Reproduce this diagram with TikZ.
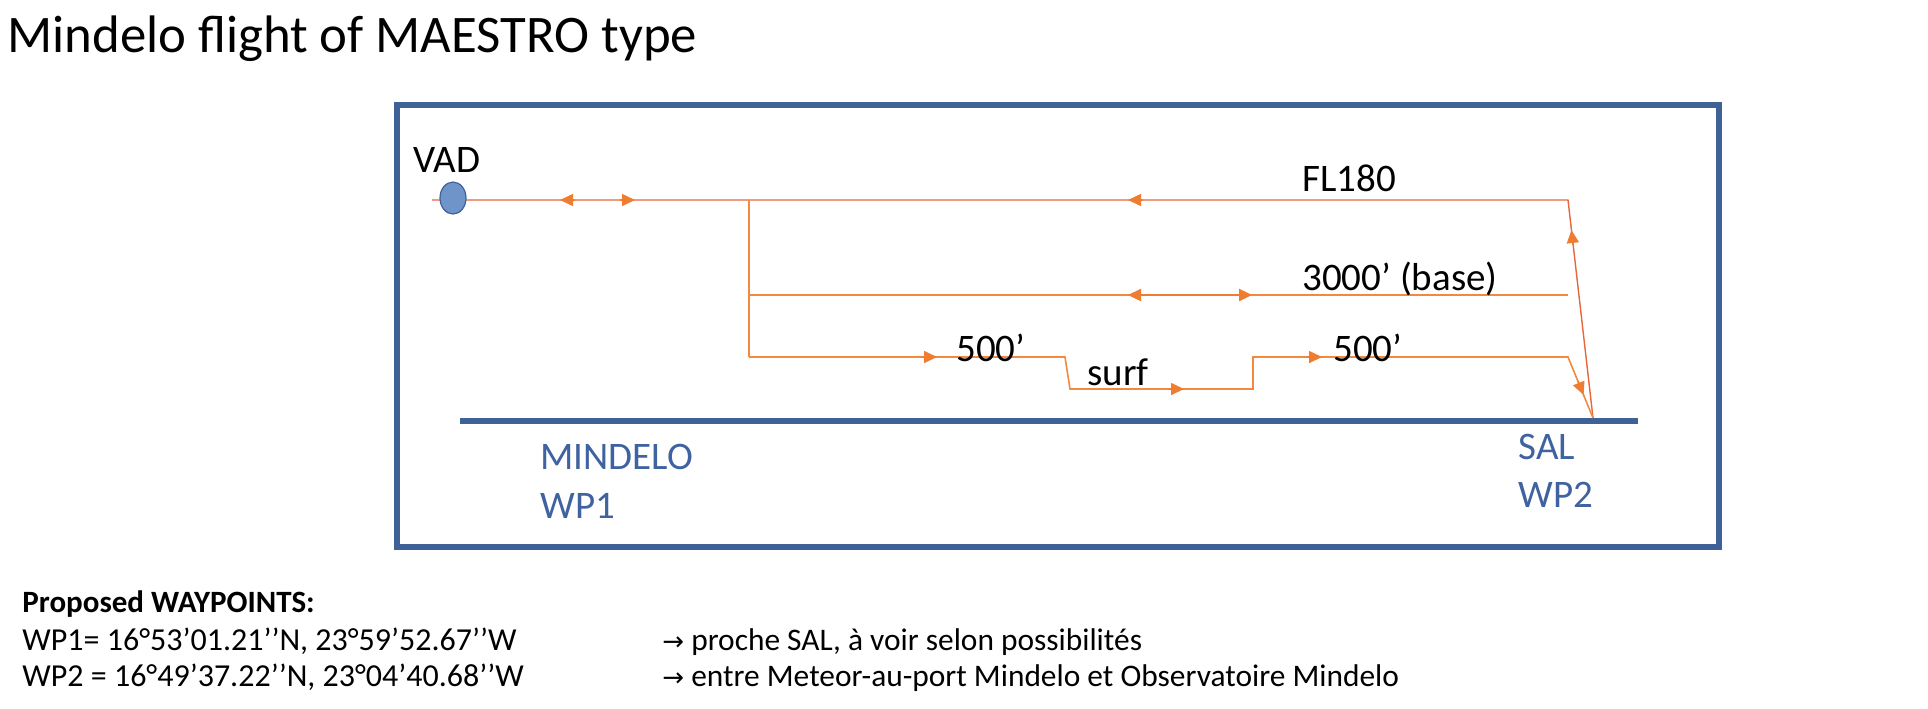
\documentclass[tikz,border=0pt]{standalone}
\usepackage{fontspec}
\setmainfont{Carlito}
\newfontfamily\arrowfont{DejaVu Sans}
\usetikzlibrary{arrows.meta,shapes.geometric}
\definecolor{boxblue}{HTML}{3E6198}
\definecolor{txtblue}{HTML}{3F62A0}
\definecolor{fillblue}{HTML}{6E94CA}
\definecolor{lineor}{HTML}{F2893F}
\definecolor{topor}{HTML}{E8663C}
\definecolor{arrowor}{HTML}{EE7D31}
\newcommand{\rarr}{{\arrowfont\fontsize{13}{16}\selectfont →}}
\begin{document}
\begin{tikzpicture}[x=0.5pt,y=-0.5pt,
  lbl/.style={inner sep=0pt, anchor=base west, font=\fontsize{19.5}{23}\selectfont},
  blbl/.style={lbl, text=txtblue},
  foot/.style={inner sep=0pt, anchor=base west, font=\fontsize{16}{19}\selectfont},
  route/.style={draw=lineor, line width=0.8pt},
  toproute/.style={draw=topor, line width=0.7pt},
  tip/.style={-{Triangle[length=6.5pt,width=6pt]}, draw=arrowor, fill=arrowor, line width=0.8pt},
  dtip/.style={{Triangle[length=6.5pt,width=6pt]}-{Triangle[length=6.5pt,width=6pt]}, draw=arrowor, fill=arrowor, line width=1.2pt},
]
\useasboundingbox (0,0) rectangle (1928,708);

% title
\node[inner sep=0pt, anchor=base west, font=\fontsize{26.4}{30}\selectfont] (title) at (7,52) {Mindelo flight of MAESTRO type};

% frame
\draw[boxblue, line width=2.6pt] (397,105) rectangle (1719,547);

% coordinates of the route
\coordinate (t0) at (432,200);
\coordinate (t1) at (1568,200);
\coordinate (br) at (749,200);
\coordinate (b3) at (749,295);
\coordinate (e3) at (1568,295);
\coordinate (b5) at (749,357);
\coordinate (s1) at (1065,357);
\coordinate (s2) at (1070,389);
\coordinate (s3) at (1253,389);
\coordinate (s4) at (1253,357);
\coordinate (e5) at (1568,357);
\coordinate (apex) at (1593,418);
\coordinate (g0) at (460,421);
\coordinate (g1) at (1638,421);

% ground line
\draw[boxblue, line width=2.6pt] (g0) -- (g1);

% routes
\draw[toproute] (t0) -- (t1) -- (apex);
\draw[route] (br) -- (b5);
\draw[route] (b3) -- (e3);
\draw[route] (b5) -- (s1) -- (s2) -- (s3) -- (s4) -- (e5) -- (apex);

% arrowheads along the routes
\draw[tip] (575,200) -- (560,200);
\draw[tip] (620,200) -- (635,200);
\draw[tip] (1143,200) -- (1128,200);
\draw[dtip] (1128,295) -- (1252,295);
\draw[tip] (922,357) -- (937,357);
\draw[tip] (1169,389) -- (1184,389);
\draw[tip] (1307,357) -- (1322,357);
\draw[tip] (1573.1,245) -- (1571.4,230);
\draw[tip] (1577.9,381) -- (1583.6,395);

% VAD point
\node[ellipse, draw=boxblue, fill=fillblue, line width=0.6pt, minimum width=13pt, minimum height=16pt, inner sep=0pt] (vad) at (453,198) {};
\node[lbl] (vadl) at (413,172) {VAD};

% level labels
\node[lbl] (fl) at (1302,191) {FL180};
\node[lbl] (base) at (1302,290) {3000’ (base)};
\node[lbl] (fivea) at (956,361) {500’};
\node[lbl] (fiveb) at (1333,361) {500’};
\node[lbl] (surf) at (1087,385) {surf};

% station labels
\node[blbl] (mind) at (540,469) {MINDELO};
\node[blbl] (wp1) at (540,518) {WP1};
\node[blbl] (sal) at (1518,459) {SAL};
\node[blbl] (wp2) at (1518,507) {WP2};

% footnote
\node[foot, font=\fontsize{15.5}{19}\selectfont\bfseries] (prop) at (22,612) {Proposed WAYPOINTS:};
\node[foot] (c1) at (22,650) {WP1= 16°53’01.21’’N, 23°59’52.67’’W};
\node[foot] (c2) at (22,686) {WP2 = 16°49’37.22’’N, 23°04’40.68’’W};
\node[foot, font=\fontsize{15.7}{19}\selectfont] (n1) at (662,650) {\rarr\ proche SAL, à voir selon possibilités};
\node[foot, font=\fontsize{15.7}{19}\selectfont] (n2) at (662,686) {\rarr\ entre Meteor-au-port Mindelo et Observatoire Mindelo};
\end{tikzpicture}
\end{document}
